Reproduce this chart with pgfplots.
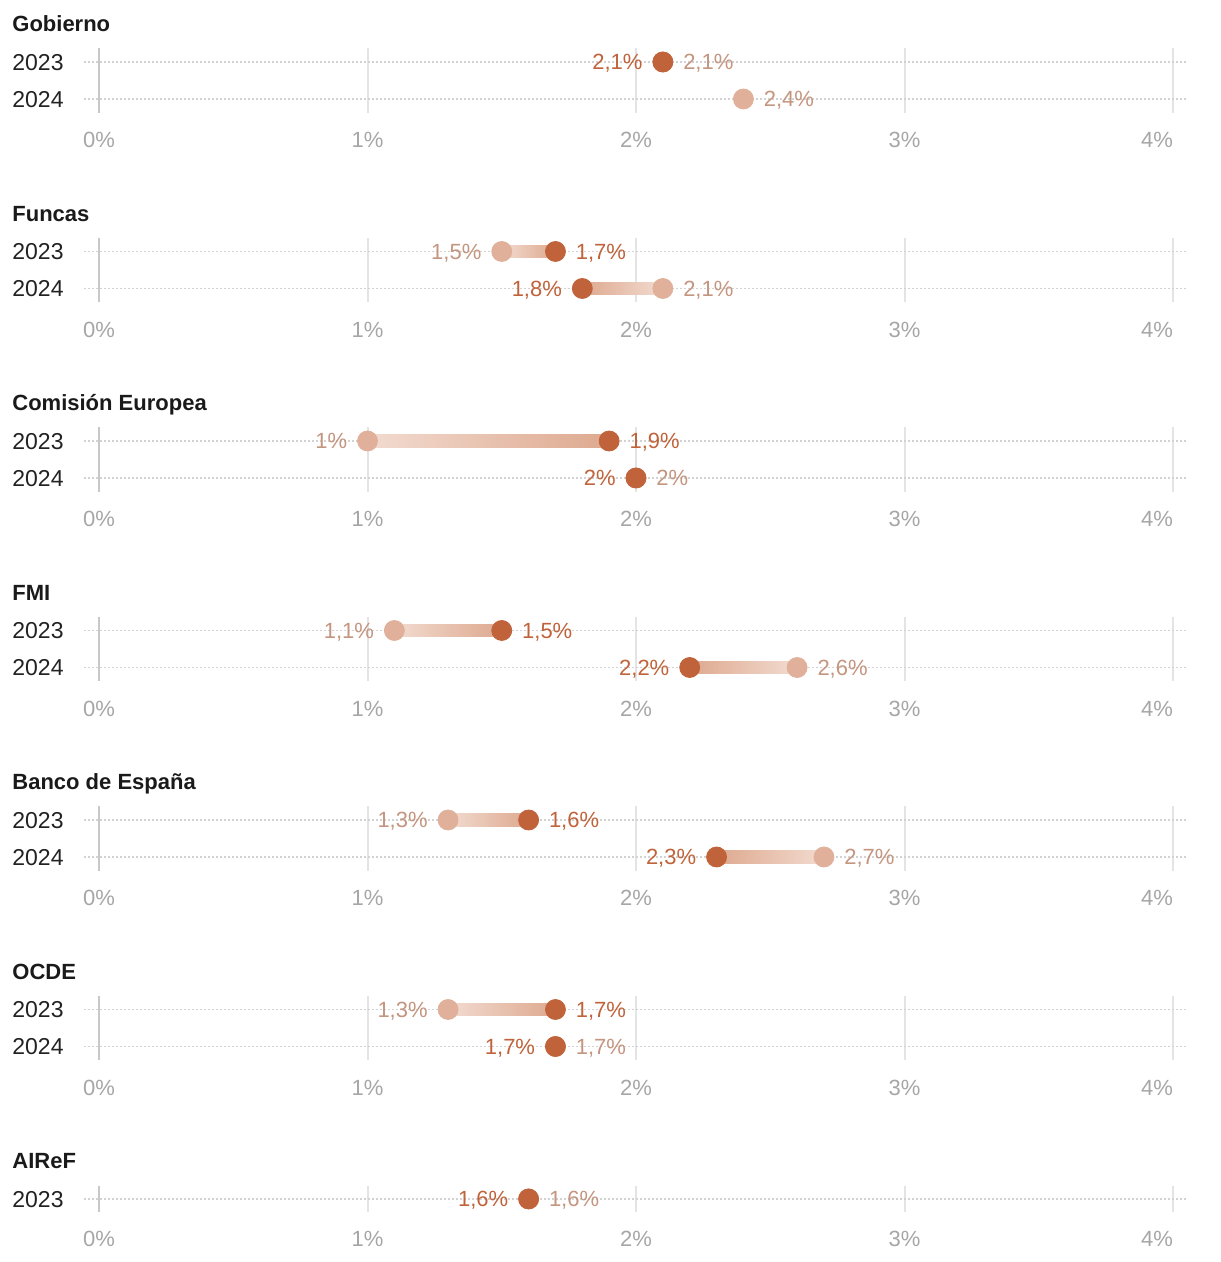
\documentclass[border=0pt]{standalone}
\usepackage{pgfplots}
\pgfplotsset{compat=1.18}
\usepackage{fontspec}
\setmainfont{Liberation Sans}
\definecolor{darkdot}{HTML}{C0633A}
\definecolor{lightdot}{HTML}{E0B09A}
\definecolor{darklab}{HTML}{C0633A}
\definecolor{lightlab}{HTML}{C4957F}
\definecolor{barlight}{HTML}{F2DBD0}
\definecolor{bardark}{HTML}{DEA98F}
\definecolor{gridc}{HTML}{E4E4E4}
\definecolor{zeroc}{HTML}{C8C8C8}
\definecolor{dotc}{HTML}{D2D2D2}
\definecolor{tickc}{HTML}{A6A6A6}
\definecolor{titlec}{HTML}{1A1A1A}
\definecolor{yearc}{HTML}{222222}
\newcommand{\lab}{\fontsize{11}{13}\selectfont}
\pgfplotsset{
  panel/.style={
    scale only axis, clip=false,
    xmin=0, xmax=4, x=134.25pt, y=18.5pt, y dir=reverse,
    ymin=-0.378, ymax=1.378,
    axis line style={draw=none}, major tick length=0pt,
    xtick={1,2,3,4}, xticklabels={1\%,2\%,3\%,\llap{4\%}},
    extra x ticks={0}, extra x tick labels={0\%},
    extra x tick style={grid style={draw=zeroc, line width=1pt}},
    xmajorgrids, grid style={draw=gridc, line width=1pt},
    ytick=\empty,
    xticklabel style={anchor=base, yshift=-17.4pt, text=tickc, inner sep=0pt, font=\lab},
    anchor=north west,
  },
  hline/.style={draw=dotc, line width=0.8pt, dash pattern=on 0.8pt off 1.2pt, forget plot},
  ldot/.style={only marks, mark=*, mark size=5pt, color=lightdot, mark options={draw=lightdot, fill=lightdot}},
  ddot/.style={only marks, mark=*, mark size=5pt, color=darkdot, mark options={draw=darkdot, fill=darkdot}},
  lbar/.style={draw=none, left color=barlight, right color=bardark},
  rbar/.style={draw=none, left color=bardark, right color=barlight},
}
\tikzset{
  ttl/.style={anchor=base west, font=\fontsize{11}{13}\selectfont\bfseries, text=titlec, xshift=-43.5pt, yshift=15pt, inner sep=0pt},
  yr/.style={anchor=base west, text=yearc, xshift=-43.5pt, yshift=-4.1pt, inner sep=0pt},
  L/.style={anchor=base east, xshift=-10pt, yshift=-3.95pt, inner sep=0pt, font=\lab},
  R/.style={anchor=base west, xshift=10pt, yshift=-3.95pt, inner sep=0pt, font=\lab},
}
\begin{document}
\fontsize{11.5}{14}\selectfont
\begin{tikzpicture}
\useasboundingbox (-49.5pt,0pt) rectangle (560.5pt,-631pt);
% ---------------- Gobierno
\begin{axis}[panel, at={(0pt,-24pt)}]
\addplot[hline] coordinates {(-0.056,0) (4.048,0)};
\addplot[hline] coordinates {(-0.056,1) (4.048,1)};
\addplot[ldot] coordinates {(2.1,0) (2.4,1)};
\addplot[ddot] coordinates {(2.1,0)};
\node[ttl] at (axis cs:0,0) {Gobierno};
\node[yr] at (axis cs:0,0) {2023};
\node[yr] at (axis cs:0,1) {2024};
\node[L, text=darklab] at (axis cs:2.1,0) {2,1\%};
\node[R, text=lightlab] at (axis cs:2.1,0) {2,1\%};
\node[R, text=lightlab] at (axis cs:2.4,1) {2,4\%};
\end{axis}
% ---------------- Funcas
\begin{axis}[panel, at={(0pt,-118.75pt)}]
\addplot[hline] coordinates {(-0.056,0) (4.048,0)};
\addplot[hline] coordinates {(-0.056,1) (4.048,1)};
\addplot[lbar] coordinates {(1.5,-0.17) (1.7,-0.17) (1.7,0.17) (1.5,0.17)} -- cycle;
\addplot[rbar] coordinates {(1.8,0.83) (2.1,0.83) (2.1,1.17) (1.8,1.17)} -- cycle;
\addplot[ldot] coordinates {(1.5,0) (2.1,1)};
\addplot[ddot] coordinates {(1.7,0) (1.8,1)};
\node[ttl] at (axis cs:0,0) {Funcas};
\node[yr] at (axis cs:0,0) {2023};
\node[yr] at (axis cs:0,1) {2024};
\node[L, text=lightlab] at (axis cs:1.5,0) {1,5\%};
\node[R, text=darklab] at (axis cs:1.7,0) {1,7\%};
\node[L, text=darklab] at (axis cs:1.8,1) {1,8\%};
\node[R, text=lightlab] at (axis cs:2.1,1) {2,1\%};
\end{axis}
% ---------------- Comision Europea
\begin{axis}[panel, at={(0pt,-213.5pt)}]
\addplot[hline] coordinates {(-0.056,0) (4.048,0)};
\addplot[hline] coordinates {(-0.056,1) (4.048,1)};
\addplot[lbar] coordinates {(1.0,-0.17) (1.9,-0.17) (1.9,0.17) (1.0,0.17)} -- cycle;
\addplot[ldot] coordinates {(1.0,0) (2.0,1)};
\addplot[ddot] coordinates {(1.9,0) (2.0,1)};
\node[ttl] at (axis cs:0,0) {Comisión Europea};
\node[yr] at (axis cs:0,0) {2023};
\node[yr] at (axis cs:0,1) {2024};
\node[L, text=lightlab] at (axis cs:1.0,0) {1\%};
\node[R, text=darklab] at (axis cs:1.9,0) {1,9\%};
\node[L, text=darklab] at (axis cs:2.0,1) {2\%};
\node[R, text=lightlab] at (axis cs:2.0,1) {2\%};
\end{axis}
% ---------------- FMI
\begin{axis}[panel, at={(0pt,-308.25pt)}]
\addplot[hline] coordinates {(-0.056,0) (4.048,0)};
\addplot[hline] coordinates {(-0.056,1) (4.048,1)};
\addplot[lbar] coordinates {(1.1,-0.17) (1.5,-0.17) (1.5,0.17) (1.1,0.17)} -- cycle;
\addplot[rbar] coordinates {(2.2,0.83) (2.6,0.83) (2.6,1.17) (2.2,1.17)} -- cycle;
\addplot[ldot] coordinates {(1.1,0) (2.6,1)};
\addplot[ddot] coordinates {(1.5,0) (2.2,1)};
\node[ttl] at (axis cs:0,0) {FMI};
\node[yr] at (axis cs:0,0) {2023};
\node[yr] at (axis cs:0,1) {2024};
\node[L, text=lightlab] at (axis cs:1.1,0) {1,1\%};
\node[R, text=darklab] at (axis cs:1.5,0) {1,5\%};
\node[L, text=darklab] at (axis cs:2.2,1) {2,2\%};
\node[R, text=lightlab] at (axis cs:2.6,1) {2,6\%};
\end{axis}
% ---------------- Banco de Espana
\begin{axis}[panel, at={(0pt,-403pt)}]
\addplot[hline] coordinates {(-0.056,0) (4.048,0)};
\addplot[hline] coordinates {(-0.056,1) (4.048,1)};
\addplot[lbar] coordinates {(1.3,-0.17) (1.6,-0.17) (1.6,0.17) (1.3,0.17)} -- cycle;
\addplot[rbar] coordinates {(2.3,0.83) (2.7,0.83) (2.7,1.17) (2.3,1.17)} -- cycle;
\addplot[ldot] coordinates {(1.3,0) (2.7,1)};
\addplot[ddot] coordinates {(1.6,0) (2.3,1)};
\node[ttl] at (axis cs:0,0) {Banco de España};
\node[yr] at (axis cs:0,0) {2023};
\node[yr] at (axis cs:0,1) {2024};
\node[L, text=lightlab] at (axis cs:1.3,0) {1,3\%};
\node[R, text=darklab] at (axis cs:1.6,0) {1,6\%};
\node[L, text=darklab] at (axis cs:2.3,1) {2,3\%};
\node[R, text=lightlab] at (axis cs:2.7,1) {2,7\%};
\end{axis}
% ---------------- OCDE
\begin{axis}[panel, at={(0pt,-497.75pt)}]
\addplot[hline] coordinates {(-0.056,0) (4.048,0)};
\addplot[hline] coordinates {(-0.056,1) (4.048,1)};
\addplot[lbar] coordinates {(1.3,-0.17) (1.7,-0.17) (1.7,0.17) (1.3,0.17)} -- cycle;
\addplot[ldot] coordinates {(1.3,0) (1.7,1)};
\addplot[ddot] coordinates {(1.7,0) (1.7,1)};
\node[ttl] at (axis cs:0,0) {OCDE};
\node[yr] at (axis cs:0,0) {2023};
\node[yr] at (axis cs:0,1) {2024};
\node[L, text=lightlab] at (axis cs:1.3,0) {1,3\%};
\node[R, text=darklab] at (axis cs:1.7,0) {1,7\%};
\node[L, text=darklab] at (axis cs:1.7,1) {1,7\%};
\node[R, text=lightlab] at (axis cs:1.7,1) {1,7\%};
\end{axis}
% ---------------- AIReF
\begin{axis}[panel, ymin=-0.35, ymax=0.35, at={(0pt,-593pt)}]
\addplot[hline] coordinates {(-0.056,0) (4.048,0)};
\addplot[ldot] coordinates {(1.6,0)};
\addplot[ddot] coordinates {(1.6,0)};
\node[ttl] at (axis cs:0,0) {AIReF};
\node[yr] at (axis cs:0,0) {2023};
\node[L, text=darklab] at (axis cs:1.6,0) {1,6\%};
\node[R, text=lightlab] at (axis cs:1.6,0) {1,6\%};
\end{axis}
\end{tikzpicture}
\end{document}
